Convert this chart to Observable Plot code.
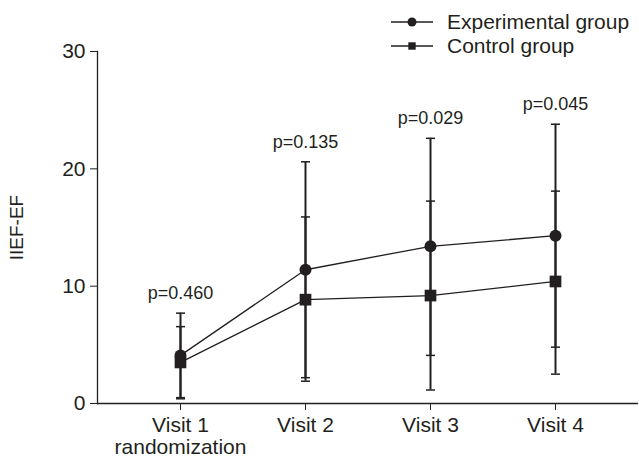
<!DOCTYPE html>
<html>
<head>
<meta charset="utf-8">
<script src="https://cdn.jsdelivr.net/npm/d3@7"></script>
<script src="https://cdn.jsdelivr.net/npm/@observablehq/plot@0.6"></script>
<style>
  html, body { margin: 0; padding: 0; background: #fff; }
  #wrap { position: relative; width: 639px; height: 460px; font-family: "Liberation Sans", Arial, sans-serif; color: #231f20; }
  #legend { position: absolute; left: 391px; top: 10px; font-size: 21px; }
  #legend .row { display: flex; align-items: center; height: 24px; }
  #legend svg { margin-right: 14px; }
</style>
</head>
<body>
<div id="wrap">
  <div id="chart"></div>
  <div id="legend"></div>
</div>
<script>
const visits = ["Visit 1", "Visit 2", "Visit 3", "Visit 4"];
const tickLabels = ["Visit 1\nrandomization", "Visit 2", "Visit 3", "Visit 4"];
const groups = ["Experimental group", "Control group"];
const expMean = [4.1, 11.4, 13.4, 14.3];
const expLow  = [0.5, 2.2, 4.1, 4.8];
const expHigh = [7.7, 20.6, 22.6, 23.8];
const ctlMean = [3.5, 8.85, 9.2, 10.4];
const ctlLow  = [0.4, 1.9, 1.15, 2.5];
const ctlHigh = [6.55, 15.9, 17.25, 18.1];
const pValues = ["p=0.460", "p=0.135", "p=0.029", "p=0.045"];
const yTicks = [0, 10, 20, 30];

const ink = "#231f20";

const rows = [];
visits.forEach((v, i) => {
  rows.push({visit: v, group: groups[0], mean: expMean[i], low: expLow[i], high: expHigh[i]});
  rows.push({visit: v, group: groups[1], mean: ctlMean[i], low: ctlLow[i], high: ctlHigh[i]});
});
const pRows = visits.map((v, i) => ({visit: v, label: pValues[i], top: Math.max(expHigh[i], ctlHigh[i])}));

const capSymbol = {
  draw(context, size) {
    const r = Math.sqrt(size / Math.PI);
    context.moveTo(-r, 0);
    context.lineTo(r, 0);
  }
};

const labelMap = new Map(visits.map((v, i) => [v, tickLabels[i]]));

const chart = Plot.plot({
  width: 639,
  height: 460,
  marginLeft: 97,
  marginRight: 1,
  marginTop: 51,
  marginBottom: 57,
  style: {fontFamily: "'Liberation Sans', Arial, sans-serif", fontSize: "21px", color: ink, background: "#fff"},
  x: {type: "point", domain: visits, padding: 0.658},
  y: {domain: [0, 30]},
  marks: [
    Plot.axisY({ticks: yTicks, tickSize: 7, tickPadding: 5, fontSize: 21, stroke: ink, fill: ink, label: null}),
    Plot.axisY({ticks: [], fontSize: 19, fill: ink,
      label: "IIEF-EF", labelAnchor: "center", labelArrow: "none", labelOffset: 88}),
    Plot.axisX({tickSize: 7, tickPadding: 6, fontSize: 21, stroke: ink, fill: ink, lineHeight: 1.04,
      tickFormat: d => labelMap.get(d), label: null}),
    Plot.frame({anchor: "left", stroke: ink, strokeWidth: 1.3}),
    Plot.ruleY([0], {stroke: ink, strokeWidth: 1.3}),
    Plot.ruleX(rows, {x: "visit", y1: "low", y2: "high", stroke: ink, strokeWidth: 2}),
    Plot.dot(rows, {x: "visit", y: "low", symbol: capSymbol, r: 4.5, stroke: ink, strokeWidth: 1.5, fill: null}),
    Plot.dot(rows, {x: "visit", y: "high", symbol: capSymbol, r: 4.5, stroke: ink, strokeWidth: 1.5, fill: null}),
    Plot.line(rows, {x: "visit", y: "mean", z: "group", stroke: ink, strokeWidth: 1.3}),
    Plot.dot(rows.filter(d => d.group === groups[0]), {x: "visit", y: "mean", symbol: "circle", r: 6, fill: ink, stroke: null}),
    Plot.dot(rows.filter(d => d.group === groups[1]), {x: "visit", y: "mean", symbol: "square", r: 6.6, fill: ink, stroke: null}),
    Plot.text(pRows, {x: "visit", y: "top", text: "label", dy: -20, fontSize: 18, fill: ink})
  ]
});
document.getElementById("chart").appendChild(chart);

// legend
const legend = d3.select("#legend");
groups.forEach((g, i) => {
  const row = legend.append("div").attr("class", "row");
  const s = row.append("svg").attr("width", 42).attr("height", 14);
  s.append("line").attr("x1", 0).attr("x2", 42).attr("y1", 7).attr("y2", 7).attr("stroke", ink).attr("stroke-width", 1.5);
  if (i === 0) s.append("circle").attr("cx", 21).attr("cy", 7).attr("r", 4.5).attr("fill", ink);
  else s.append("rect").attr("x", 17.3).attr("y", 3.3).attr("width", 7.4).attr("height", 7.4).attr("fill", ink);
  row.append("span").text(g);
});
</script>
</body>
</html>
